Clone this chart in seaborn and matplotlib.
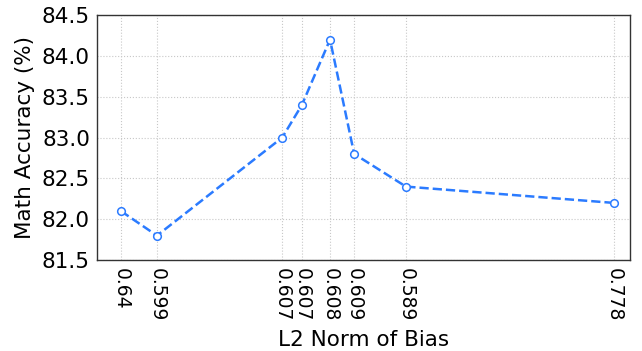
import numpy as np
import matplotlib
matplotlib.use("Agg")
import matplotlib.pyplot as plt
import seaborn as sns

# Positions along the x axis and their tick labels.
x_pos = [0.0, 0.73, 3.27, 3.67, 4.24, 4.73, 5.78, 10.0]
norm_labels = ['0.64', '0.599', '0.607', '0.607', '0.608', '0.609', '0.589', '0.778']
math_acc = [82.1, 81.8, 83.0, 83.4, 84.2, 82.8, 82.4, 82.2]

sns.set_style('white')
plt.rcParams['font.family'] = ['DejaVu Sans']
plt.rcParams['text.color'] = 'black'
plt.rcParams['axes.labelcolor'] = 'black'
plt.rcParams['xtick.color'] = 'black'
plt.rcParams['ytick.color'] = 'black'

fig = plt.figure(figsize=(6.42, 3.51), dpi=100)
ax = fig.add_axes([0.151, 0.259, 0.830, 0.698])

sns.lineplot(x=x_pos, y=math_acc, ax=ax, color='#2b7bff', linestyle='--',
             linewidth=1.8, marker='o', markersize=5.5,
             markerfacecolor='white', markeredgecolor='#2b7bff',
             markeredgewidth=1.1)

ax.set_xticks(x_pos)
ax.set_xticklabels(norm_labels, rotation=-90, fontsize=13.5)
ax.set_yticks([81.5, 82.0, 82.5, 83.0, 83.5, 84.0, 84.5])
ax.set_yticklabels(['81.5', '82.0', '82.5', '83.0', '83.5', '84.0', '84.5'], fontsize=15.5)
ax.set_xlim(-0.487, 10.32)
ax.set_ylim(81.5, 84.5)
ax.tick_params(axis='y', length=0, pad=5)
ax.tick_params(axis='x', length=0, pad=6)

ax.grid(True, linestyle=':', color='#c8c8c8', linewidth=0.8)
for s in ax.spines.values():
    s.set_color('#333333')
    s.set_linewidth(1.0)

ax.set_xlabel('L2 Norm of Bias', fontsize=15.5, labelpad=6)
ax.set_ylabel('Math Accuracy (%)', fontsize=15.5, labelpad=5)

fig.savefig('out.png', dpi=100)
